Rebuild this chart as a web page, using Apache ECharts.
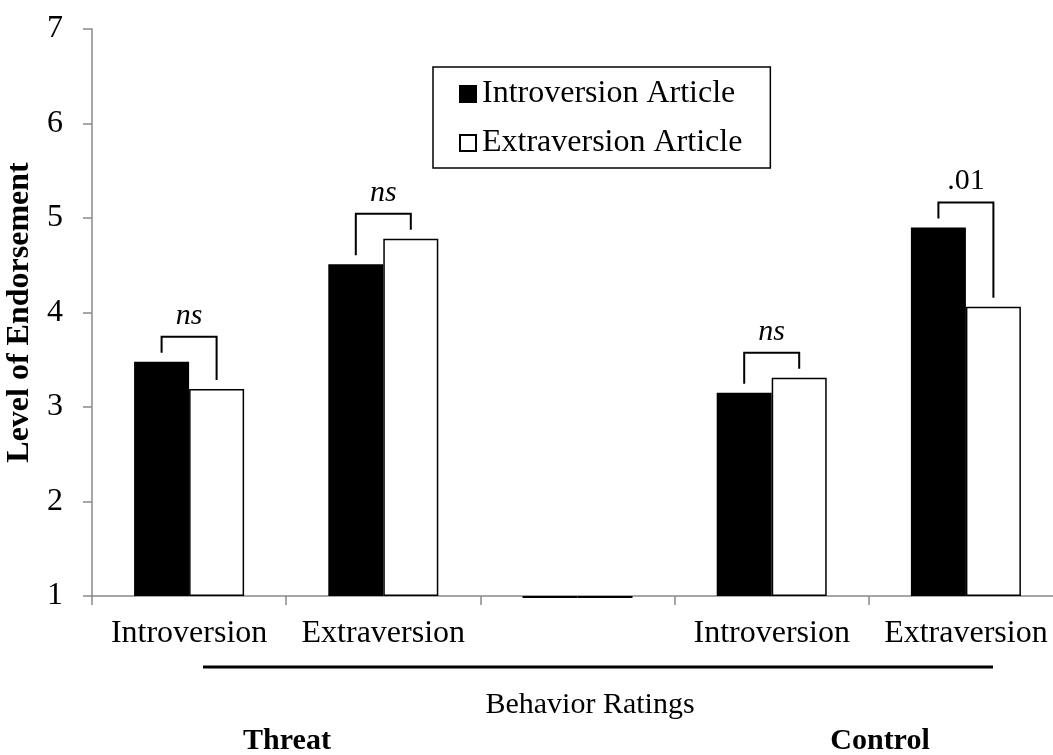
<!DOCTYPE html>
<html>
<head>
<meta charset="utf-8">
<script src="https://cdn.jsdelivr.net/npm/echarts@6/dist/echarts.min.js"></script>
<style>
  html, body { margin: 0; padding: 0; background: #fff; }
  #chart { width: 1053px; height: 755px; }
</style>
</head>
<body>
<div id="chart"></div>
<script>
  // categories and values
  var categories = ['Introversion', 'Extraversion', '', 'Introversion', 'Extraversion'];
  var introArticle = [3.48, 4.51, 0.98, 3.15, 4.90];
  var extraArticle = [3.19, 4.78, 0.98, 3.31, 4.06];
  // significance marks over each pair ('' = none)
  var sigLabels = ['ns', 'ns', '', 'ns', '.01'];
  var yTicks = [1, 2, 3, 4, 5, 6, 7];

  var serif = '"Liberation Serif", "Times New Roman", serif';
  var barW = 55;

  var myChart = echarts.init(document.getElementById('chart'));

  myChart.setOption({
    backgroundColor: '#ffffff',
    animation: false,
    legend: {
      data: ['Introversion Article', 'Extraversion Article'],
      orient: 'vertical',
      left: 433,
      top: 67,
      padding: [11, 28, 9, 26],
      itemGap: 17,
      itemWidth: 16,
      itemHeight: 16,
      icon: 'rect',
      borderColor: '#000',
      borderWidth: 1.5,
      textStyle: {
        fontFamily: serif,
        fontSize: 32,
        color: '#000',
        padding: [0, 0, 0, 1]
      }
    },
    grid: {
      left: 92,
      top: 29,
      width: 971,
      height: 567,
      outerBoundsMode: 'none',
      containLabel: false
    },
    xAxis: {
      type: 'category',
      data: categories,
      axisLine: {lineStyle: {color: '#898989', width: 1.5}},
      axisTick: {show: true, length: 9, lineStyle: {color: '#898989', width: 1.5}},
      axisLabel: {
        interval: 0,
        margin: 22,
        fontFamily: serif,
        fontSize: 32,
        color: '#000'
      },
      splitLine: {show: false}
    },
    yAxis: {
      type: 'value',
      min: yTicks[0],
      max: yTicks[yTicks.length - 1],
      startValue: yTicks[0],
      interval: 1,
      name: 'Level of Endorsement',
      nameLocation: 'middle',
      nameRotate: 90,
      nameGap: 55,
      nameTextStyle: {
        fontFamily: serif,
        fontWeight: 'bold',
        fontSize: 32,
        color: '#000'
      },
      axisLine: {show: true, lineStyle: {color: '#898989', width: 1.5}},
      axisTick: {show: true, length: 9, lineStyle: {color: '#898989', width: 1.5}},
      axisLabel: {
        margin: 29,
        fontFamily: serif,
        fontSize: 32,
        color: '#000'
      },
      splitLine: {show: false}
    },
    series: [
      {
        name: 'Introversion Article',
        type: 'bar',
        data: introArticle,
        barWidth: barW,
        barGap: 0,
        clip: false,
        itemStyle: {color: '#000', borderColor: '#000', borderWidth: 1.5}
      },
      {
        name: 'Extraversion Article',
        type: 'bar',
        data: extraArticle,
        barWidth: barW,
        barGap: 0,
        clip: false,
        itemStyle: {color: '#fff', borderColor: '#000', borderWidth: 1.5}
      },
      {
        // brackets with significance labels
        name: 'sig',
        type: 'custom',
        silent: true,
        data: categories.map(function (c, i) {
          return [i, introArticle[i], extraArticle[i]];
        }),
        encode: {x: 0, y: [1, 2]},
        renderItem: function (params, api) {
          var idx = api.value(0);
          var label = sigLabels[idx];
          if (!label) return;
          var p1 = api.coord([idx, api.value(1)]);
          var p2 = api.coord([idx, api.value(2)]);
          var x1 = p1[0] - barW / 2;
          var x2 = p1[0] + barW / 2;
          var top = Math.min(p1[1], p2[1]) - 25;
          return {
            type: 'group',
            children: [
              {
                type: 'polyline',
                shape: {points: [[x1, p1[1] - 9], [x1, top], [x2, top], [x2, p2[1] - 9]]},
                style: {stroke: '#000', lineWidth: 2, fill: null}
              },
              {
                type: 'text',
                x: (x1 + x2) / 2,
                y: top - 6,
                style: {
                  text: label,
                  fontFamily: serif,
                  fontSize: 30,
                  fontStyle: label === 'ns' ? 'italic' : 'normal',
                  fill: '#000',
                  align: 'center',
                  verticalAlign: 'bottom'
                }
              }
            ]
          };
        }
      }
    ],
    graphic: [
      {
        type: 'line',
        shape: {x1: 203, y1: 667, x2: 993, y2: 667},
        style: {stroke: '#000', lineWidth: 3}
      },
      {
        type: 'text',
        x: 590, y: 705,
        style: {text: 'Behavior Ratings', fontFamily: serif, fontSize: 30, fill: '#000', align: 'center', verticalAlign: 'middle'}
      },
      {
        type: 'text',
        x: 287, y: 741,
        style: {text: 'Threat', fontFamily: serif, fontWeight: 'bold', fontSize: 30, fill: '#000', align: 'center', verticalAlign: 'middle'}
      },
      {
        type: 'text',
        x: 880, y: 741,
        style: {text: 'Control', fontFamily: serif, fontWeight: 'bold', fontSize: 30, fill: '#000', align: 'center', verticalAlign: 'middle'}
      }
    ]
  });
</script>
</body>
</html>
